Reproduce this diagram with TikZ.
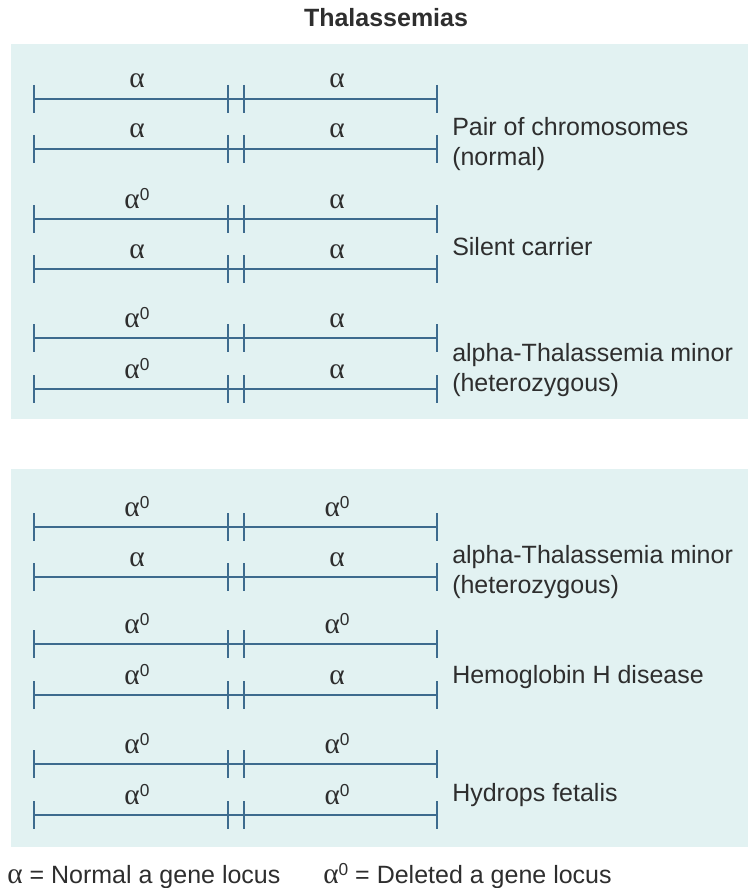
\documentclass[tikz,border=0pt]{standalone}
\usepackage{fontspec}
\setmainfont{Liberation Sans}
\newfontfamily\greekfont{Liberation Serif}
\definecolor{panelfill}{HTML}{E2F2F2}
\definecolor{chromline}{HTML}{3D6B8E}
\definecolor{txtcol}{HTML}{2E2E2E}
\newcommand\mytxt{\fontsize{18.75pt}{22.5pt}\selectfont}
\newcommand\alN{{\greekfont\fontsize{22pt}{22pt}\selectfont α}}
\newcommand\alD{{\greekfont\fontsize{22pt}{22pt}\selectfont α}\raisebox{5.6pt}{\fontsize{13pt}{13pt}\selectfont 0}}
\newcommand\chromrow[4]{%
  \draw[chrom] (34,#2) -- (437,#2);
  \foreach \tx in {34,228,244,437} \draw[chrom] (\tx,#2-14) -- (\tx,#2+14);
  \node[alab] (#1l) at (137,#2-11) {#3};
  \node[alab] (#1r) at (337,#2-11) {#4};
}
\begin{document}
\begin{tikzpicture}[x=0.75pt,y=-0.75pt,
  chrom/.style={draw=chromline,line width=1.5pt},
  alab/.style={anchor=base,inner sep=0pt,text=txtcol,font=\mytxt},
  desc/.style={anchor=base west,inner sep=0pt,text=txtcol,font=\mytxt},
  panel/.style={fill=panelfill,draw=none}]
\useasboundingbox (0,0) rectangle (748,888);
\fill[white] (0,0) rectangle (748,888);
\node[anchor=base,inner sep=0pt,text=txtcol,font=\mytxt\bfseries] (title) at (386,27) {Thalassemias};
\path[panel] (11,44) rectangle (748,419);
\path[panel] (11,469) rectangle (748,847);
% panel 1
\chromrow{a1}{99}{\alN}{\alN}
\chromrow{a2}{149}{\alN}{\alN}
\chromrow{b1}{219}{\alD}{\alN}
\chromrow{b2}{269}{\alN}{\alN}
\chromrow{c1}{338}{\alD}{\alN}
\chromrow{c2}{389}{\alD}{\alN}
% panel 2
\chromrow{d1}{527}{\alD}{\alD}
\chromrow{d2}{577}{\alN}{\alN}
\chromrow{e1}{644}{\alD}{\alD}
\chromrow{e2}{695}{\alD}{\alN}
\chromrow{f1}{764}{\alD}{\alD}
\chromrow{f2}{815}{\alD}{\alD}
% descriptions
\node[desc] (pa) at (452,136) {Pair of chromosomes};
\node[desc] (pb) at (452,166) {(normal)};
\node[desc] (sc) at (452,255) {Silent carrier};
\node[desc] (ma) at (452,361) {alpha-Thalassemia minor};
\node[desc] (mb) at (452,391) {(heterozygous)};
\node[desc] (na) at (452,563) {alpha-Thalassemia minor};
\node[desc] (nb) at (452,593) {(heterozygous)};
\node[desc] (hh) at (452,683) {Hemoglobin H disease};
\node[desc] (hf) at (452,801) {Hydrops fetalis};
% legend
\node[desc] (leg1) at (7,883) {\alN{} = Normal a gene locus};
\node[desc] (leg2) at (323,883) {\alD{} = Deleted a gene locus};
\end{tikzpicture}
\end{document}
